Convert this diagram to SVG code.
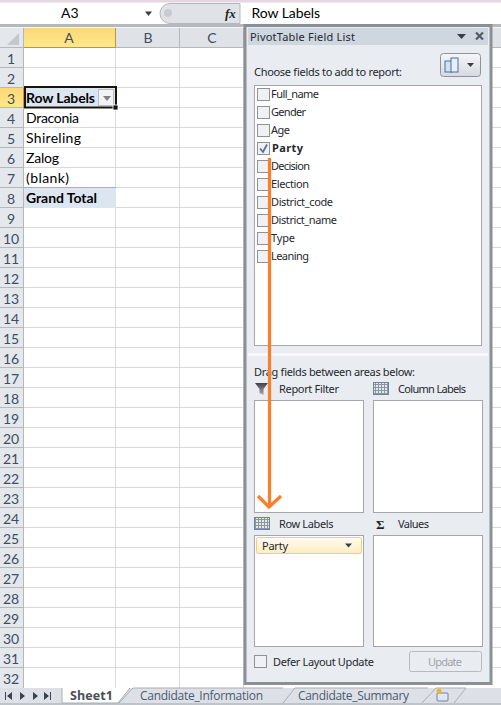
<svg xmlns="http://www.w3.org/2000/svg" width="501" height="705" viewBox="0 0 501 705">
<defs>
<style>
text{font-family:"Noto Sans","Open Sans","DejaVu Sans",sans-serif;fill:#1f1f1f}
.cell{font-family:"Lato","Open Sans",sans-serif;font-size:14px;fill:#000}
.b{font-weight:700}
.rh{font-family:"Lato","Open Sans",sans-serif;font-size:14px;fill:#3f4d5f;text-anchor:middle}
.p{font-size:11px;fill:#25282c}
.g{stroke:#d9d9d9;stroke-width:1;fill:none;shape-rendering:crispEdges}
.hg{stroke:#b4b8bd;stroke-width:1;fill:none;shape-rendering:crispEdges}
.box{fill:#fff;stroke:#a3a7ac;stroke-width:1;shape-rendering:crispEdges}
.cb{fill:#f0f1f3;stroke:#8e9399;stroke-width:1;shape-rendering:crispEdges}
.tab{font-size:12px;fill:#4a5a6e;font-family:"Open Sans","Noto Sans",sans-serif}
.tri{fill:#3a3f46}
</style>
<linearGradient id="sel" x1="0" y1="0" x2="0" y2="1"><stop offset="0" stop-color="#fdd878"/><stop offset="1" stop-color="#ffe88a"/></linearGradient>
<linearGradient id="item" x1="0" y1="0" x2="0" y2="1"><stop offset="0" stop-color="#fffdf4"/><stop offset="1" stop-color="#fdecc0"/></linearGradient>
<linearGradient id="btn" x1="0" y1="0" x2="0" y2="1"><stop offset="0" stop-color="#f5f7f9"/><stop offset="1" stop-color="#d5dae0"/></linearGradient>
<linearGradient id="fun" x1="0" y1="0" x2="0" y2="1"><stop offset="0" stop-color="#3e4248"/><stop offset="1" stop-color="#a9adb2"/></linearGradient>
<pattern id="gridico" width="3" height="3" patternUnits="userSpaceOnUse"><rect width="3" height="3" fill="#efe9d2"/><path d="M0 .5H3M.5 0V3" stroke="#8397b3" stroke-width="1"/></pattern>
</defs>

<g id="sheet">
<rect width="501" height="705" fill="#fff"/>
<rect width="501" height="2.500" fill="#e6d6e2"/>
<rect y="24" width="501" height="3" fill="#b5b9be"/>
<rect y="27" width="501" height="1" fill="#f4f5f6"/>
<path class="g" d="M0 67.500H501M0 87.500H501M0 107.500H501M0 127.500H501M0 147.500H501M0 167.500H501M0 187.500H501M0 207.500H501M0 227.500H501M0 247.500H501M0 267.500H501M0 287.500H501M0 307.500H501M0 327.500H501M0 347.500H501M0 367.500H501M0 387.500H501M0 407.500H501M0 427.500H501M0 447.500H501M0 467.500H501M0 487.500H501M0 507.500H501M0 527.500H501M0 547.500H501M0 567.500H501M0 587.500H501M0 607.500H501M0 627.500H501M0 647.500H501M0 667.500H501M115.500 47V688M179.500 47V688M243.500 47V688"/>
<rect x="0" y="28" width="24" height="660" fill="#e4e7eb"/>
<rect x="24" y="28" width="477" height="19" fill="#dfe3e8"/>
<rect x="24" y="28" width="92" height="19" fill="url(#sel)"/>
<rect x="0" y="88" width="24" height="20" fill="url(#sel)"/>
<path d="M19 33V45H7Z" fill="#c3c8ce"/>
<path class="hg" d="M0 47.500H501M23.500 28V688M115.500 28V47M179.500 28V47M243.500 28V47M0 67.500H23M0 87.500H23M0 107.500H23M0 127.500H23M0 147.500H23M0 167.500H23M0 187.500H23M0 207.500H23M0 227.500H23M0 247.500H23M0 267.500H23M0 287.500H23M0 307.500H23M0 327.500H23M0 347.500H23M0 367.500H23M0 387.500H23M0 407.500H23M0 427.500H23M0 447.500H23M0 467.500H23M0 487.500H23M0 507.500H23M0 527.500H23M0 547.500H23M0 567.500H23M0 587.500H23M0 607.500H23M0 627.500H23M0 647.500H23M0 667.500H23"/>
<path d="M24 47.500H115.500M23.500 88V108M115.500 28V47" stroke="#c8962e" fill="none" shape-rendering="crispEdges"/>
<text class="rh" x="69" y="43">A</text><text class="rh" x="148" y="43">B</text><text class="rh" x="212" y="43">C</text>
<g class="rows">
<text class="rh" x="11" y="64">1</text><text class="rh" x="11" y="84">2</text><text class="rh" x="11" y="104">3</text><text class="rh" x="11" y="124">4</text><text class="rh" x="11" y="144">5</text><text class="rh" x="11" y="164">6</text><text class="rh" x="11" y="184">7</text><text class="rh" x="11" y="204">8</text><text class="rh" x="11" y="224">9</text><text class="rh" x="11" y="244">10</text><text class="rh" x="11" y="264">11</text><text class="rh" x="11" y="284">12</text><text class="rh" x="11" y="304">13</text><text class="rh" x="11" y="324">14</text><text class="rh" x="11" y="344">15</text><text class="rh" x="11" y="364">16</text><text class="rh" x="11" y="384">17</text><text class="rh" x="11" y="404">18</text><text class="rh" x="11" y="424">19</text><text class="rh" x="11" y="444">20</text><text class="rh" x="11" y="464">21</text><text class="rh" x="11" y="484">22</text><text class="rh" x="11" y="504">23</text><text class="rh" x="11" y="524">24</text><text class="rh" x="11" y="544">25</text><text class="rh" x="11" y="564">26</text><text class="rh" x="11" y="584">27</text><text class="rh" x="11" y="604">28</text><text class="rh" x="11" y="624">29</text><text class="rh" x="11" y="644">30</text><text class="rh" x="11" y="664">31</text><text class="rh" x="11" y="684">32</text>
</g>
</g>

<g id="formula-bar">
<text class="cell" x="61" y="18">A3</text>
<path class="tri" d="M145 11.500H152L148.500 16Z"/>
<path d="M170 3.500H240V23.500H170A10 10 0 0 1 170 3.500Z" fill="#dfe3e8" stroke="#b5b9be"/>
<circle cx="168" cy="13" r="4" fill="#c6cbd1"/>
<text x="225" y="18" font-size="13" font-style="italic" style="font-family:'Liberation Serif',serif" font-weight="700">fx</text>
<text class="cell" x="251.500" y="18" textLength="68.500">Row Labels</text>
</g>

<g id="pivot-cells">
<rect x="24" y="88" width="92" height="20" fill="#dce6f1"/>
<rect x="24" y="188" width="92" height="20" fill="#dce6f1"/>
<path d="M24 187.500H116" stroke="#95b3d7" shape-rendering="crispEdges"/>
<rect x="98.500" y="89.500" width="15" height="16" fill="#f1f3f5" stroke="#b8bdc3"/>
<path d="M103 96H111L107 101Z" fill="#7d8288"/>
<rect x="25" y="87" width="91" height="20.500" fill="none" stroke="#1a1408" stroke-width="2"/>
<rect x="113" y="105" width="5" height="5" fill="#111" stroke="#fff" stroke-width=".8"/>
<text class="cell b" x="26" y="103" textLength="69">Row Labels</text>
<text class="cell" x="26" y="123" textLength="53">Draconia</text>
<text class="cell" x="26" y="143" textLength="55">Shireling</text>
<text class="cell" x="26" y="163" textLength="33">Zalog</text>
<text class="cell" x="26" y="183" textLength="43">(blank)</text>
<text class="cell b" x="26" y="203" textLength="71">Grand Total</text>
</g>

<g id="field-list-panel">
<rect x="245" y="25.500" width="246" height="658" fill="#e9edf2" stroke="#8a9096" stroke-width="3"/>
<rect x="248" y="28" width="240" height="17" fill="#ced6df"/>
<text class="p" x="250" y="41" textLength="105">PivotTable Field List</text>
<path class="tri" d="M457 34H466L461.500 39Z"/>
<path d="M476 32.500L483 39.500M483 32.500L476 39.500" stroke="#545a62" stroke-width="2.200"/>
<text class="p" x="254" y="76" textLength="148">Choose fields to add to report:</text>
<rect x="440.500" y="53.500" width="40" height="23" rx="3" fill="url(#btn)" stroke="#8e9399"/>
<rect x="445" y="61" width="7" height="11" fill="#cfe0f2" stroke="#4f6f97"/><rect x="451" y="58" width="7" height="14" fill="#e7eff8" stroke="#4f6f97"/>
<path class="tri" d="M467 63H474L470.500 67Z"/>
</g>

<g id="fields">
<rect class="box" x="254.500" y="85.500" width="227" height="260"/>
<rect class="cb" x="257.500" y="88.500" width="12" height="12"/><text class="p" x="271" y="98" textLength="48">Full_name</text>
<rect class="cb" x="257.500" y="106.500" width="12" height="12"/><text class="p" x="271" y="116" textLength="35">Gender</text>
<rect class="cb" x="257.500" y="124.500" width="12" height="12"/><text class="p" x="271" y="134" textLength="19">Age</text>
<rect class="cb" x="257.500" y="142.500" width="12" height="12"/><path d="M260 148.500L263 152L267 144.500" fill="none" stroke="#5a6f9c" stroke-width="1.800"/><text class="p b" x="272" y="152" textLength="31">Party</text>
<rect class="cb" x="257.500" y="160.500" width="12" height="12"/><text class="p" x="271" y="170" textLength="39">Decision</text>
<rect class="cb" x="257.500" y="178.500" width="12" height="12"/><text class="p" x="271" y="188" textLength="38">Election</text>
<rect class="cb" x="257.500" y="196.500" width="12" height="12"/><text class="p" x="271" y="206" textLength="62">District_code</text>
<rect class="cb" x="257.500" y="214.500" width="12" height="12"/><text class="p" x="271" y="224" textLength="66">District_name</text>
<rect class="cb" x="257.500" y="232.500" width="12" height="12"/><text class="p" x="271" y="242" textLength="24">Type</text>
<rect class="cb" x="257.500" y="250.500" width="12" height="12"/><text class="p" x="271" y="260" textLength="38">Leaning</text>
</g>

<g id="areas">
<rect x="248" y="353" width="240" height="3" fill="#f7f8fa"/>
<text class="p" x="254" y="376" textLength="161">Drag fields between areas below:</text>
<path d="M255 383H268L263.500 389V395L259.500 393V389Z" fill="url(#fun)"/>
<text class="p" x="279" y="393" textLength="60">Report Filter</text>
<rect x="373.500" y="382.500" width="15" height="12" fill="url(#gridico)" stroke="#6f83a0"/>
<text class="p" x="398" y="393" textLength="68">Column Labels</text>
<rect class="box" x="254.500" y="400.500" width="109" height="112"/>
<rect class="box" x="373.500" y="400.500" width="109" height="112"/>
<rect x="254.500" y="517.500" width="15" height="12" fill="url(#gridico)" stroke="#6f83a0"/>
<text class="p" x="279" y="528" textLength="54.500">Row Labels</text>
<text x="376" y="529" font-size="13" font-weight="700" style="font-family:'Liberation Serif',serif" fill="#111">Σ</text>
<text class="p" x="398" y="528" textLength="31">Values</text>
<rect class="box" x="254.500" y="535.500" width="109" height="111"/>
<rect class="box" x="373.500" y="535.500" width="109" height="111"/>
<rect x="256.500" y="537.500" width="105" height="16" rx="2" fill="url(#item)" stroke="#f0cf6e"/>
<text class="p" x="262" y="550" textLength="26">Party</text>
<path class="tri" d="M345 543.500H352L348.500 547.500Z"/>
</g>

<g id="panel-footer">
<rect class="cb" x="254.500" y="655.500" width="12" height="12"/>
<text class="p" x="273" y="666" textLength="101">Defer Layout Update</text>
<rect x="409.500" y="651.500" width="72" height="20" rx="2" fill="#e9edf2" stroke="#b7bbc0"/>
<text class="p" x="428" y="666" textLength="34" style="fill:#a0a4a9">Update</text>
</g>

<g id="connectors">
<path d="M269.500 158V507" fill="none" stroke="#fd7e28" stroke-width="3.200"/>
<path d="M258 496L269 507L281 496" fill="none" stroke="#fd7e28" stroke-width="3.200"/>
</g>

<g id="tab-bar">
<rect y="688" width="501" height="17" fill="#dde1e7"/>
<rect y="703" width="501" height="2" fill="#bfc4ca"/>
<path d="M62 688V703H118L130 688" fill="#fff" stroke="#a9aeb4"/>
<path d="M119 703L133 688H283M283 703L295 688H428M422 703L436 688H466L454 703" fill="none" stroke="#a9aeb4"/>
<path d="M5 692H6V700H5ZM12 692L7 696L12 700ZM20 692L25 696L20 700ZM33 692V700L38 696ZM50 692H51V700H50ZM44 692V700L49 696Z" fill="#3a4350"/>
<text class="tab b" x="70" y="700" font-size="12" textLength="43" style="font-size:12.5px;fill:#4a4f55">Sheet1</text>
<text class="tab" x="140" y="700" textLength="123">Candidate_Information</text>
<text class="tab" x="298" y="700" textLength="111">Candidate_Summary</text>
<rect x="437" y="693" width="11" height="8" rx="1" fill="#dfe7f2" stroke="#6f83a0"/>
<circle cx="439" cy="691" r="2.500" fill="#f0b429"/>
</g>
</svg>
